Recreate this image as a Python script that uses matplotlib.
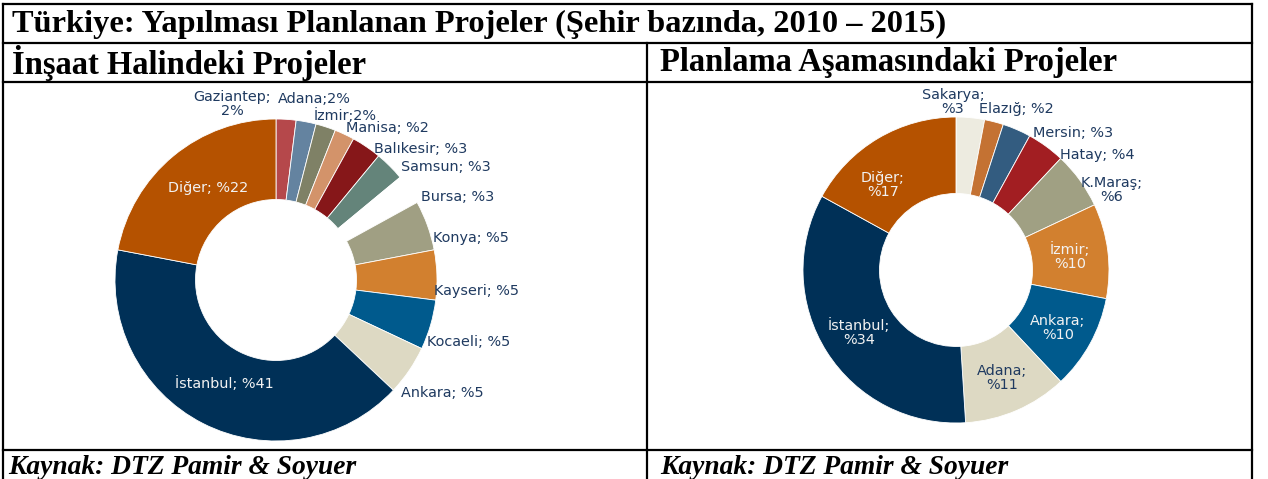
import matplotlib.pyplot as plt

plt.rcParams['font.family'] = ['DejaVu Sans']

# sol: inşaat halindeki projeler (%)
left_names = ['Gaziantep', 'Adana', 'İzmir', 'Manisa', 'Balıkesir', 'Samsun', 'Bursa',
              'Konya', 'Kayseri', 'Kocaeli', 'Ankara', 'İstanbul', 'Diğer']
left_vals = [2, 2, 2, 2, 3, 3, 3, 5, 5, 5, 5, 41, 22]
left_labels = ['Gaziantep;\n2%', 'Adana;2%', 'İzmir;2%', 'Manisa; %2', 'Balıkesir; %3',
               'Samsun; %3', 'Bursa; %3', 'Konya; %5', 'Kayseri; %5', 'Kocaeli; %5',
               'Ankara; %5', 'İstanbul; %41', 'Diğer; %22']

# sağ: planlama aşamasındaki projeler (%)
right_names = ['Sakarya', 'Elazığ', 'Mersin', 'Hatay', 'K.Maraş', 'İzmir', 'Ankara',
               'Adana', 'İstanbul', 'Diğer']
right_vals = [3, 2, 3, 4, 6, 10, 10, 11, 34, 17]
right_labels = ['Sakarya;\n%3', 'Elazığ; %2', 'Mersin; %3', 'Hatay; %4', 'K.Maraş;\n%6',
                'İzmir;\n%10', 'Ankara;\n%10', 'Adana;\n%11', 'İstanbul;\n%34', 'Diğer;\n%17']

left_colors = ['#B5484B', '#6483A0', '#7F8166', '#D3936A', '#861719', '#64847A', '#FFFFFF',
               '#A09F83', '#D2802F', '#005A8D', '#DDD9C3', '#003057', '#B55200']
right_colors = ['#EDEBE0', '#C47233', '#335C80', '#A21E22', '#A0A083', '#D2802F',
                '#005A8D', '#DDD9C3', '#003057', '#B55200']

DARK = '#1F3A60'
LIGHT = '#F2F2F2'

# label anchors in pixels (x, y, ha, color)
left_pos = [(232, 104, 'center', DARK), (278, 99, 'left', DARK), (314, 116, 'left', DARK),
            (346, 128, 'left', DARK), (374, 149, 'left', DARK), (401, 167, 'left', DARK),
            (421, 197, 'left', DARK), (433, 238, 'left', DARK), (434, 291, 'left', DARK),
            (427, 342, 'left', DARK), (401, 393, 'left', DARK), (224, 384, 'center', LIGHT),
            (208, 188, 'center', LIGHT)]
right_pos = [(953, 102, 'center', DARK), (979, 109, 'left', DARK), (1033, 133, 'left', DARK),
             (1060, 155, 'left', DARK), (1112, 190, 'center', DARK), (1070, 257, 'center', LIGHT),
             (1058, 328, 'center', LIGHT), (1002, 378, 'center', DARK), (859, 333, 'center', LIGHT),
             (883, 185, 'center', LIGHT)]

W, H = 1268, 479
fig = plt.figure(figsize=(W / 100, H / 100), dpi=100)


def fx(x):
    return x / W


def fy(y):
    return 1 - y / H


def donut(cx, cy, r, vals, colors):
    hw, hh = 250, 180
    ax = fig.add_axes([fx(cx - hw), fy(cy + hh), 2 * hw / W, 2 * hh / H])
    ax.pie(vals, colors=colors, startangle=90, counterclock=False, radius=1,
           wedgeprops=dict(width=0.5, edgecolor='white', linewidth=0.6))
    ax.set_xlim(-hw / r, hw / r)
    ax.set_ylim(-hh / r, hh / r)
    ax.axis('off')
    return ax


donut(276, 280, 161, left_vals, left_colors)
donut(956, 270, 153, right_vals, right_colors)

for lab, (x, y, ha, c) in zip(left_labels + right_labels, left_pos + right_pos):
    fig.text(fx(x), fy(y), lab, ha=ha, va='center', fontsize=10.4, color=c,
             linespacing=1.0, multialignment='center')

# tablo çizgileri
lw = 1.6
for y in [4, 43, 82, 450]:
    fig.add_artist(plt.Line2D([fx(3), fx(1252)], [fy(y), fy(y)], color='black', lw=lw))
for x in [3, 1252]:
    fig.add_artist(plt.Line2D([fx(x), fx(x)], [fy(4), fy(479)], color='black', lw=lw))
fig.add_artist(plt.Line2D([fx(647), fx(647)], [fy(43), fy(479)], color='black', lw=lw))

serif = 'Liberation Serif'
fig.text(fx(12), fy(24), 'Türkiye: Yapılması Planlanan Projeler (Şehir bazında, 2010 – 2015)',
         family=serif, weight='bold', fontsize=23.3, va='center')
fig.text(fx(12), fy(63), 'İnşaat Halindeki Projeler', family=serif, weight='bold',
         fontsize=23.5, va='center')
fig.text(fx(660), fy(63), 'Planlama Aşamasındaki Projeler', family=serif, weight='bold',
         fontsize=23.5, va='center')
for x in [8, 660]:
    fig.text(fx(x), fy(467), 'Kaynak: DTZ Pamir & Soyuer', family=serif, weight='bold',
             style='italic', fontsize=19.8, va='center')

fig.savefig('out.png', dpi=100)
